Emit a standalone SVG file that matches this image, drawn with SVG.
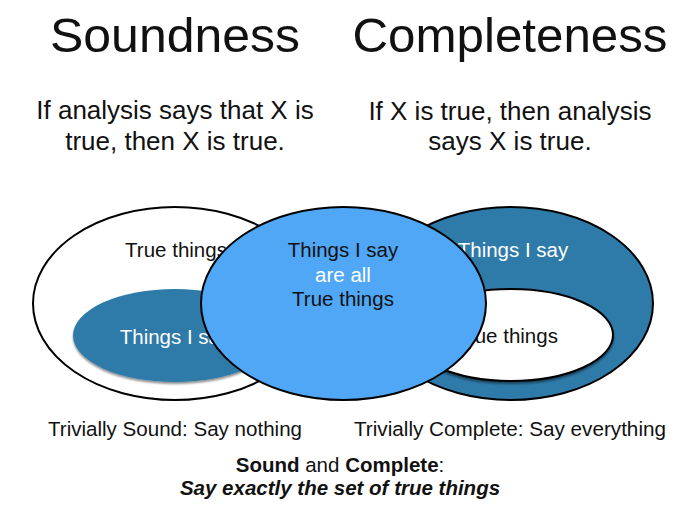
<svg xmlns="http://www.w3.org/2000/svg" width="680" height="520" viewBox="0 0 680 520">
  <defs>
    <filter id="soft" x="-10%" y="-10%" width="120%" height="130%">
      <feGaussianBlur in="SourceAlpha" stdDeviation="1.2"/>
      <feOffset dx="0" dy="1.5" result="sh"/>
      <feComponentTransfer><feFuncA type="linear" slope="0.45"/></feComponentTransfer>
      <feMerge><feMergeNode/><feMergeNode in="SourceGraphic"/></feMerge>
    </filter>
  </defs>
  <style>
    text { font-family: "Liberation Sans", Arial, Helvetica, sans-serif; text-anchor: middle; fill: #111; }
    .title { font-size: 49px; font-weight: normal; }
    .sub { font-size: 26px; }
    .lbl { font-size: 20.5px; }
    .cap { font-size: 20.5px; }
    .white { fill: #ffffff; }
    .b { font-weight: bold; }
    .bi { font-weight: bold; font-style: italic; }
    .outline { stroke: #000; stroke-width: 2; }
    .pale { fill: #ffffff; }
    .deep { fill: #2e7aa9; }
    .sky { fill: #4fa7f6; }
  </style>

  <!-- headings -->
  <g id="headings">
    <text class="title" x="175" y="52" textLength="250" lengthAdjust="spacingAndGlyphs">Soundness</text>
    <text class="title" x="510" y="52" textLength="315" lengthAdjust="spacingAndGlyphs">Completeness</text>
    <text class="sub" x="175" y="119">If analysis says that X is</text>
    <text class="sub" x="175" y="150">true, then X is true.</text>
    <text class="sub" x="510" y="120">If X is true, then analysis</text>
    <text class="sub" x="510" y="150">says X is true.</text>
  </g>

  <!-- sound case: what is said sits inside the true things -->
  <g id="sound">
    <ellipse class="pale outline" cx="175" cy="303.5" rx="142" ry="96.5"/>
    <text class="lbl" x="176" y="257">True things</text>
    <ellipse class="deep" cx="175" cy="335.5" rx="102" ry="46.5" filter="url(#soft)"/>
    <text class="lbl white" x="175" y="344">Things I say</text>
  </g>

  <!-- complete case: the true things sit inside what is said -->
  <g id="complete">
    <ellipse class="deep outline" cx="511" cy="303.5" rx="142" ry="96.5"/>
    <text class="lbl white" x="513" y="257">Things I say</text>
    <ellipse class="pale outline" cx="511" cy="335" rx="102" ry="46" filter="url(#soft)"/>
    <text class="lbl" x="507" y="343">True things</text>
  </g>

  <!-- sound and complete: both sets coincide -->
  <g id="both">
    <ellipse class="sky outline" cx="343.5" cy="303.5" rx="142.5" ry="96.5"/>
    <text class="lbl" x="343" y="257">Things I say</text>
    <text class="lbl white" x="343" y="282">are all</text>
    <text class="lbl" x="343" y="306">True things</text>
  </g>

  <!-- captions -->
  <g id="captions">
    <text class="cap" x="175" y="436" textLength="254" lengthAdjust="spacingAndGlyphs">Trivially Sound: Say nothing</text>
    <text class="cap" x="510" y="436" textLength="312" lengthAdjust="spacingAndGlyphs">Trivially Complete: Say everything</text>
    <text class="cap" x="340" y="472"><tspan class="b">Sound</tspan> and <tspan class="b">Complete</tspan>:</text>
    <text class="cap bi" x="340" y="495">Say exactly the set of true things</text>
  </g>
</svg>
